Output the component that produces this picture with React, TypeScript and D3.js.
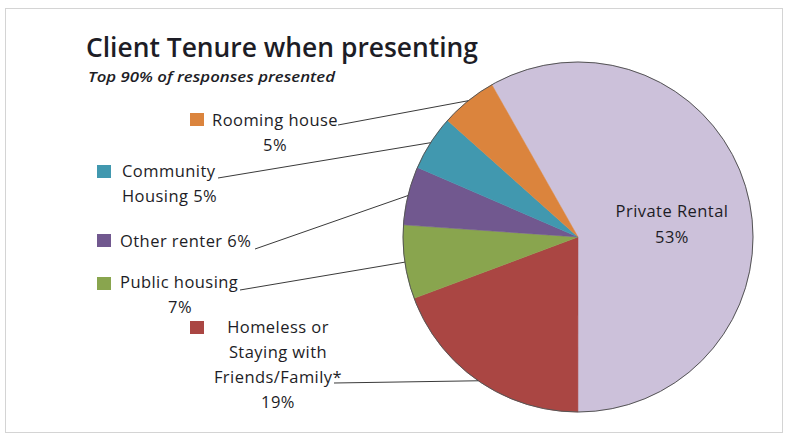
import * as d3 from "d3";

// slice order runs clockwise from the top-left edge of "Private Rental"
const categories = [
  "Private Rental",
  "Homeless or Staying with Friends/Family*",
  "Public housing",
  "Other renter",
  "Community Housing",
  "Rooming house",
];
const percentLabels = ["53%", "19%", "7%", "6%", "5%", "5%"];
// slice sizes as drawn in the picture (share of the full circle)
const sliceShares = [58.2, 19.3, 6.8, 5.4, 5.1, 5.2];

const colors = ["#CCC1DA", "#AA4643", "#89A54E", "#71588F", "#4198AF", "#DB843D"];

// text layout for the outside labels: lines, anchor, square and leader start
type LabelLayout = {
  lines: string[];
  x: number;
  y: number;
  anchor: "start" | "middle";
  sq: [number, number];
  lead: [number, number];
  pctX?: number;
};

const labelLayout: (LabelLayout | null)[] = [
  null,
  {
    lines: ["Homeless or", "Staying with", "Friends/Family*", "19%"],
    x: 278,
    y: 333,
    anchor: "middle",
    sq: [190, 321],
    lead: [334, 383],
  },
  { lines: ["Public housing", "7%"], x: 120, y: 288, anchor: "start", sq: [97, 277], lead: [240, 290], pctX: 180 },
  { lines: ["Other renter 6%"], x: 120, y: 247, anchor: "start", sq: [97, 234], lead: [255, 249] },
  { lines: ["Community", "Housing 5%"], x: 122, y: 177, anchor: "start", sq: [97, 165], lead: [218, 178] },
  { lines: ["Rooming house", "5%"], x: 212, y: 126, anchor: "start", sq: [190, 113], lead: [338, 125], pctX: 275 },
];

const W = 787;
const H = 440;
const cx = 578;
const cy = 237;
const R = 175;
const startDeg = -29.5;

export default function App() {
  const rows = categories.map((c, i) => ({ name: c, share: sliceShares[i], pct: percentLabels[i], color: colors[i] }));

  const pie = d3
    .pie<(typeof rows)[number]>()
    .sort(null)
    .value((d) => d.share)
    .startAngle((startDeg * Math.PI) / 180)
    .endAngle((startDeg * Math.PI) / 180 + Math.PI * 2);
  const arcs = pie(rows);

  const arc = d3.arc<d3.PieArcDatum<(typeof rows)[number]>>().innerRadius(0).outerRadius(R);
  const edge = d3.arc<d3.PieArcDatum<(typeof rows)[number]>>().innerRadius(R).outerRadius(R);

  const font = "'Open Sans', Lato, sans-serif";
  const ink = "#1d1d26";
  const fs = 16.5;
  const ls = 0.45;

  return (
    <svg
      width={W}
      height={H}
      style={{ position: "absolute", left: 0, top: 0, background: "#fff" }}
      fontFamily={font}
    >
      <rect x={5.5} y={8.5} width={777} height={424} fill="#fff" stroke="#d4d4d4" strokeWidth={1} />

      <text x={86} y={57} fontSize={27} fontWeight={600} fill={ink} textLength={392} lengthAdjust="spacingAndGlyphs">
        Client Tenure when presenting
      </text>
      <text
        x={88}
        y={82}
        fontSize={13.5}
        fontStyle="italic"
        fontWeight={600}
        fill={ink}
        textLength={247}
        lengthAdjust="spacingAndGlyphs"
      >
        Top 90% of responses presented
      </text>

      <g transform={`translate(${cx},${cy})`}>
        {arcs.map((a, i) => (
          <path key={i} d={arc(a) ?? ""} fill={a.data.color} stroke={a.data.color} strokeWidth={0.5} />
        ))}
        <circle r={R} fill="none" stroke="#555" strokeWidth={1} />
      </g>

      {arcs.map((a, i) => {
        const L = labelLayout[i];
        if (!L) return null;
        const [ex, ey] = edge.centroid(a);
        return (
          <g key={`l${i}`}>
            <line x1={L.lead[0]} y1={L.lead[1]} x2={cx + ex} y2={cy + ey} stroke="#3a3a3a" strokeWidth={1} />
            <rect x={L.sq[0]} y={L.sq[1]} width={14} height={13} fill={a.data.color} />
            {L.lines.map((ln, j) => {
              // a lone percentage line sits centred under the first line
              const lonePct = L.pctX !== undefined && j === L.lines.length - 1;
              return (
                <text
                  key={j}
                  x={lonePct ? L.pctX : L.x}
                  y={L.y + j * 25}
                  fontSize={fs}
                  letterSpacing={ls}
                  fill={ink}
                  textAnchor={lonePct ? "middle" : L.anchor}
                >
                  {ln}
                </text>
              );
            })}
          </g>
        );
      })}

      <text x={672} y={217} fontSize={fs} letterSpacing={ls} fill={ink} textAnchor="middle">
        {categories[0]}
      </text>
      <text x={672} y={243} fontSize={fs} letterSpacing={ls} fill={ink} textAnchor="middle">
        {percentLabels[0]}
      </text>
    </svg>
  );
}
